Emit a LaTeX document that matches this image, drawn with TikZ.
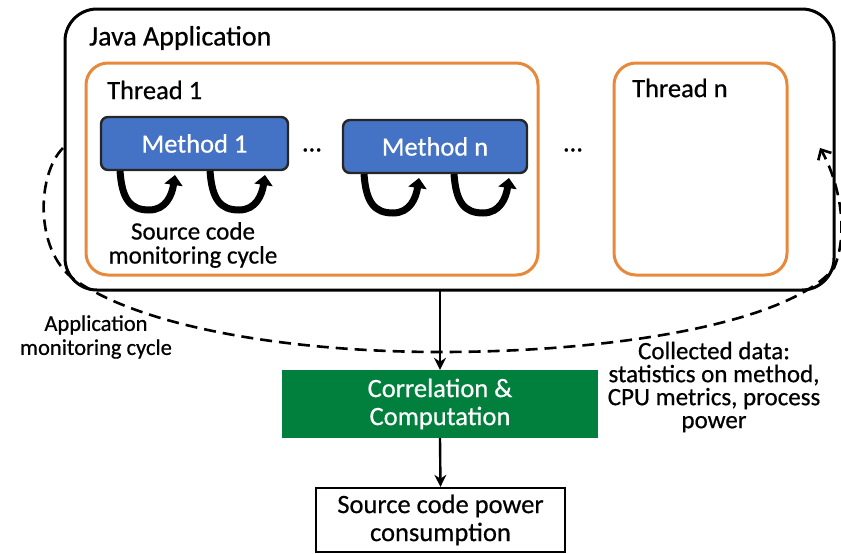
\documentclass[tikz,border=0pt]{standalone}
\usepackage{fontspec}
\setmainfont{Carlito}[FakeBold=0.6]
\usetikzlibrary{arrows.meta}
\definecolor{orangeb}{HTML}{E8883A}
\definecolor{blueb}{HTML}{4472C4}
\definecolor{greenb}{HTML}{00803C}
\begin{document}
\begin{tikzpicture}[x=1pt,y=-1pt,
  lbl/.style={font=\fontsize{26.5}{30}\selectfont, inner sep=0pt},
  outerbox/.style={draw=black, line width=3pt, rounded corners=32pt},
  threadbox/.style={draw=orangeb, line width=3pt, rounded corners=22pt},
  methodbox/.style={draw=black!85, line width=2.4pt, fill=blueb, rounded corners=7pt, text=white, font=\fontsize{26.5}{30}\selectfont},
  loop/.style={line width=7pt, -{Triangle[length=10pt,width=18pt]}},
  flow/.style={line width=2.4pt, -{Stealth[length=12pt,width=12pt]}},
  dashedline/.style={line width=2.6pt, dash pattern=on 12pt off 7pt, -{Straight Barb[length=8pt,width=15pt]}}
]
\useasboundingbox (0,0) rectangle (841,554);
% outer application box
\draw[outerbox] (65,9) rectangle (834,290);
\node[lbl, anchor=west, font=\fontsize{28}{30}\selectfont] (java) at (89,38) {Java Application};
% threads
\draw[threadbox] (86,63) rectangle (538,275);
\node[lbl, anchor=west] (t1) at (107,90) {Thread 1};
\draw[threadbox] (614,63) rectangle (787,275);
\node[lbl, anchor=west] (tn) at (632,88) {Thread n};
% methods
\node[methodbox, minimum width=187pt, minimum height=53pt] (m1) at (194.5,143.5) {Method 1};
\node[methodbox, minimum width=184pt, minimum height=53pt] (mn) at (435,146.5) {Method n};
\node[lbl] (d1) at (312,150) {\dots};
\node[lbl] (d2) at (573,150) {\dots};
% loop arrows
\foreach \x/\y in {120/171,210/171,364/174,454/174}{
  \draw[loop] (\x,\y) .. controls (\x+2,\y+28) and (\x+10,\y+39) .. (\x+29,\y+39)
     .. controls (\x+46,\y+39) and (\x+52,\y+24) .. (\x+55,\y+4);
}
\node[lbl, align=center, font=\fontsize{25}{24}\selectfont] (src) at (193,245) {Source code\\monitoring cycle};
% correlation box
\node[fill=greenb, text=white, minimum width=316pt, minimum height=68pt, align=center, font=\fontsize{26.5}{28}\selectfont, inner sep=0pt] (corr) at (440,404) {Correlation \&\\Computation};
\node[draw=black, line width=2.4pt, minimum width=249pt, minimum height=64pt, align=center, font=\fontsize{26.5}{28}\selectfont, inner sep=0pt] (out) at (440.5,520) {Source code power\\consumption};
\coordinate (appbot) at (440,290);
\draw[flow] (appbot) -- (corr.north);
\draw[flow] (corr.south) -- (out.north);
% dashed monitoring cycle
\coordinate (ds) at (63,148);
\coordinate (dm) at (440,352);
\coordinate (de) at (820,148);
\draw[dashedline] (ds) .. controls (36,175) and (34,255) .. (78,282)
  .. controls (150,330) and (300,352) .. (dm)
  .. controls (620,352) and (790,322) .. (834,268)
  .. controls (850,230) and (838,180) .. (de);
\node[lbl, align=center, font=\fontsize{22.5}{24}\selectfont] (amc) at (96,337) {Application\\monitoring cycle};
\node[lbl, align=center, font=\fontsize{25}{23}\selectfont] (cd) at (714,387) {Collected data:\\statistics on method,\\CPU metrics, process\\power};
\end{tikzpicture}
\end{document}
